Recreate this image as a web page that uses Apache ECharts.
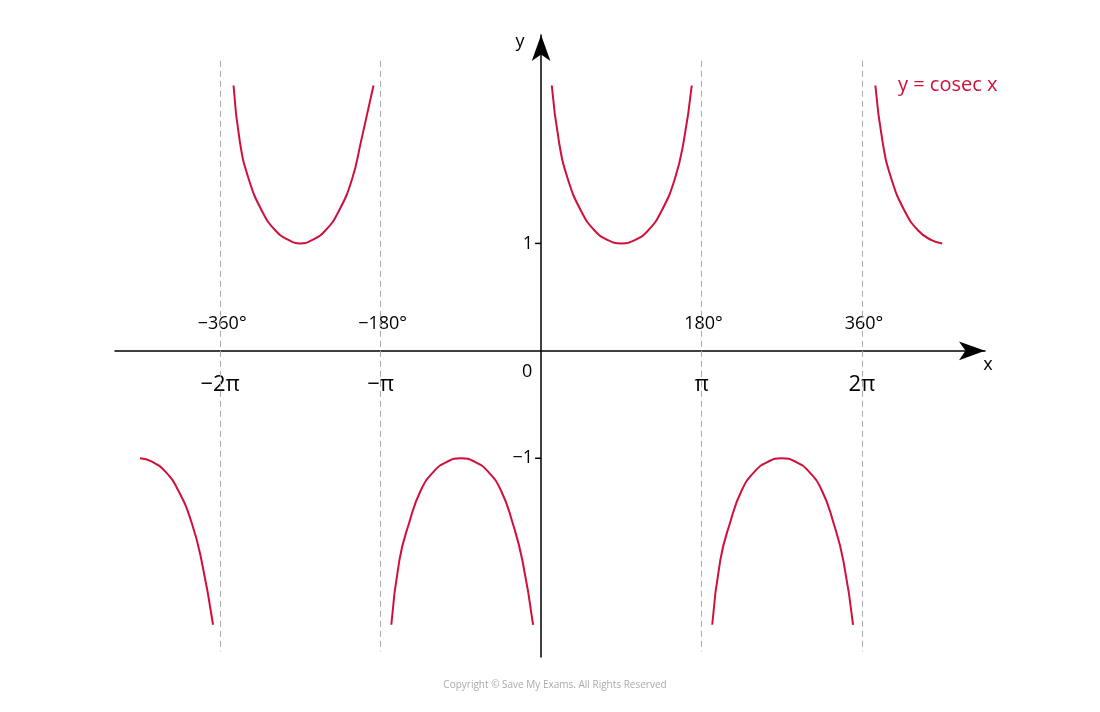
<!DOCTYPE html>
<html>
<head>
<meta charset="utf-8">
<script src="https://cdn.jsdelivr.net/npm/echarts@6/dist/echarts.min.js"></script>
<style>html,body{margin:0;background:#fff}#chart{width:1100px;height:712px}</style>
</head>
<body>
<div id="chart"></div>
<script>
// curve branches, [degrees, y]
const upperA = [[-345, 2.47], [-338, 1.95], [-328, 1.6], [-313, 1.3], [-298, 1.12], [-283, 1.03], [-270, 1.0], [-257, 1.03], [-242, 1.12], [-227, 1.3], [-212, 1.6], [-202, 1.95], [-188, 2.47]];
const upperB = [[12, 2.47], [20, 1.95], [30, 1.6], [45, 1.3], [60, 1.12], [75, 1.03], [90, 1.0], [105, 1.03], [120, 1.12], [135, 1.3], [150, 1.6], [160, 1.95], [169, 2.47]];
const upperC = [[375, 2.47], [383, 1.95], [393, 1.6], [408, 1.3], [423, 1.12], [438, 1.03], [450, 1.0]];
const lowerA = [[-450, -1.0], [-437, -1.03], [-422, -1.12], [-407, -1.3], [-392, -1.6], [-381, -1.95], [-368, -2.55]];
const lowerB = [[-168, -2.55], [-159, -1.95], [-148, -1.6], [-135, -1.3], [-120, -1.12], [-105, -1.03], [-90, -1.0], [-75, -1.03], [-60, -1.12], [-45, -1.3], [-32, -1.6], [-21, -1.95], [-9, -2.55]];
const lowerC = [[192, -2.55], [201, -1.95], [212, -1.6], [225, -1.3], [240, -1.12], [255, -1.03], [270, -1.0], [285, -1.03], [300, -1.12], [315, -1.3], [328, -1.6], [339, -1.95], [350, -2.55]];
const asymptotes = [-360, -180, 180, 360];
const degLabels = ['−360°', '−180°', '180°', '360°'];
const radLabels = ['−2π', '−π', 'π', '2π'];

const red = '#d0103a';
const chart = echarts.init(document.getElementById('chart'));
const branches = [upperA, upperB, upperC, lowerA, lowerB, lowerC];
const series = branches.map(d => ({
  type: 'line', data: d, smooth: true, showSymbol: false,
  lineStyle: { color: red, width: 2 }, silent: true
}));
series.push({
  type: 'line', data: [], silent: true,
  markLine: {
    symbol: 'none', silent: true, label: { show: false },
    lineStyle: { color: '#aaa', type: [6, 4], width: 1 },
    data: asymptotes.map(v => [{ coord: [v, 2.7] }, { coord: [v, -2.8] }])
  }
});

chart.setOption({
  animation: false,
  grid: { left: 115, right: 115, top: 35, bottom: 55 },
  xAxis: {
    type: 'value', min: -478, max: 498,
    axisLine: { onZero: true, symbol: ['none', 'arrow'], symbolSize: [14, 26], lineStyle: { color: '#000', width: 1.5 } },
    axisTick: { show: false }, axisLabel: { show: false }, splitLine: { show: false }
  },
  yAxis: {
    type: 'value', min: -2.85, max: 2.94, interval: 1,
    axisLine: { onZero: true, symbol: ['none', 'arrow'], symbolSize: [14, 26], lineStyle: { color: '#000', width: 1.5 } },
    axisTick: { show: false }, axisLabel: { show: false }, splitLine: { show: false }
  },
  series: series
});

const font = '18px "Open Sans", sans-serif';
const px = (x, y) => chart.convertToPixel({ gridIndex: 0 }, [x, y]);
const txt = (x, y, s, extra) => Object.assign({
  type: 'text', x: x, y: y, style: { text: s, font: font, fill: '#000', align: 'center', verticalAlign: 'middle' }
}, extra || {});
const g = [];
asymptotes.forEach((v, i) => {
  const p = px(v, 0);
  g.push(txt(p[0] + 2, p[1] - 27, degLabels[i]));
  g.push(txt(p[0], p[1] + 34, radLabels[i], { style: { text: radLabels[i], font: '22px "Open Sans", sans-serif', fill: '#000', align: 'center', verticalAlign: 'middle' } }));
});
const o = px(0, 0);
g.push(txt(o[0] - 14, o[1] + 21, '0'));
[1, -1].forEach(v => {
  const p = px(0, v);
  g.push({ type: 'line', shape: { x1: p[0] - 6, y1: p[1], x2: p[0], y2: p[1] }, style: { stroke: '#000', lineWidth: 1.5 } });
  g.push(txt(p[0] - 8, p[1], String(v).replace('-', '−'), { style: { text: String(v).replace('-', '−'), font: font, fill: '#000', align: 'right', verticalAlign: 'middle' } }));
});
g.push(txt(o[0] - 21, 42, 'y'));
g.push(txt(988, o[1] + 14, 'x'));
g.push({ type: 'text', x: 898, y: 85, style: { text: 'y = cosec x', font: '20px "Open Sans", sans-serif', fill: red, verticalAlign: 'middle' } });
g.push({ type: 'text', x: 555, y: 685, style: { text: 'Copyright © Save My Exams. All Rights Reserved', font: '10px "Open Sans", sans-serif', fill: '#aaa', align: 'center', verticalAlign: 'middle' } });
chart.setOption({ graphic: g });
</script>
</body>
</html>
